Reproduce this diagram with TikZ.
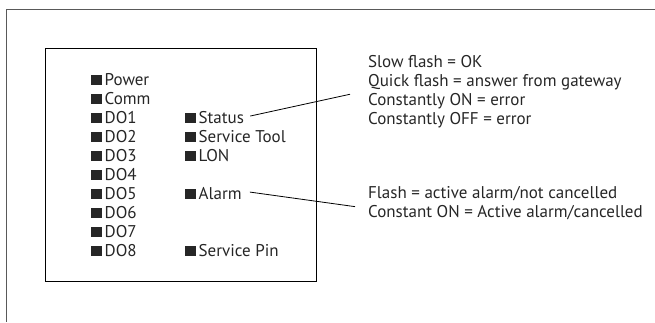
\documentclass[tikz,border=0pt]{standalone}
\usepackage{fontspec}
\setmainfont{PT Sans}
\newcommand{\ledsq}{\rule{10.5pt}{10pt}\hspace{3pt}}

\begin{document}
\begin{tikzpicture} [
                x=1pt, y=-1pt,
                frame/.style = {draw=black!65, line width=1.4pt},
                panel/.style = {draw, line width=0.9pt},
                led/.style = {anchor=base west, inner sep=0pt, text=black!85, font=\fontsize{17}{19}\selectfont},
                note/.style = {led},
                leader/.style = {draw, line width=0.8pt},
            ]
            \useasboundingbox (0,0) rectangle (655,322);
            \draw[frame] (655,9.7) -- (6.7,9.7) -- (6.7,322);
            \draw[panel] (45,48.5) rectangle (316,281.5);
            % left column of leds
            \foreach \y/\name/\lbl in {
                    85/power/Power, 104/comm/Comm, 123/do1/DO1, 142/do2/DO2, 161/do3/DO3,
                    180/do4/DO4, 199/do5/DO5, 218/do6/DO6, 237/do7/DO7, 256/do8/DO8}
                \node[led] (\name) at (91,\y) {\ledsq\lbl};
            % right column of leds
            \foreach \y/\name/\lbl in {
                    123/status/Status, 142/stool/Service Tool, 161/lon/LON,
                    199/alarm/Alarm, 256/spin/Service Pin}
                \node[led] (\name) at (185,\y) {\ledsq\lbl};
            % explanations
            \node[note] (slow) at (368,67.5) {Slow flash = OK};
            \node[note] (quick) at (368,86.5) {Quick flash = answer from gateway};
            \node[note] (conon) at (368,105.5) {Constantly ON = error};
            \node[note] (conoff) at (368,124.5) {Constantly OFF = error};
            \node[note] (flash) at (368,198.5) {Flash = active alarm/not cancelled};
            \node[note] (alon) at (368,217.5) {Constant ON = Active alarm/cancelled};
            \draw[leader] ([xshift=6pt,yshift=1pt]status.east) -- ([xshift=-18pt,yshift=-12pt]quick.west);
            \draw[leader] ([xshift=8pt,yshift=1pt]alarm.east) -- ([xshift=-13pt,yshift=6pt]alon.west);
        \end{tikzpicture}
\end{document}
